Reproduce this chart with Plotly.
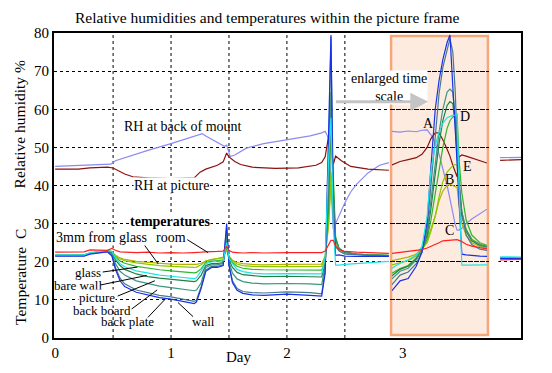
import plotly.graph_objects as go

FONT = "Liberation Serif, Times New Roman, serif"

# ---------------- main time axis (days) ----------------
days = [0, 0.25, 0.3, 0.45, 0.49, 0.52, 0.56, 0.6, 0.7, 0.8, 0.9, 1.0, 1.1, 1.2, 1.22, 1.26, 1.3, 1.35, 1.4, 1.45,
        1.48, 1.5, 1.53, 1.57, 1.62, 1.7, 1.8, 2.0, 2.2, 2.30, 2.33, 2.36, 2.38, 2.40, 2.42, 2.45, 2.5, 2.6, 2.7, 2.88]

t_room = [22.5, 22.6, 23.1, 23.0, 23.5, 23.0, 22.6, 22.5, 22.4, 22.5, 22.3, 22.4, 22.3, 22.4, 22.4, 22.5, 22.6, 22.6, 22.7, 22.8,
          24.0, 23.0, 22.5, 22.4, 22.3, 22.4, 22.3, 22.4, 22.3, 22.4, 22.8, 24.3, 25.6, 25.6, 24.0, 23.2, 22.7, 22.5, 22.4, 22.2]
t_3mm = [21.7, 21.8, 22.3, 22.8, 22.6, 21.7, 21.0, 20.6, 20.1, 19.8, 19.6, 19.4, 19.3, 19.2, 19.3, 19.6, 20.2, 20.6, 20.8, 21.2,
         23.0, 21.5, 20.4, 19.8, 19.5, 19.3, 19.2, 19.3, 19.3, 19.4, 21.5, 30.0, 40.0, 33.0, 24.7, 23.0, 22.3, 22.0, 21.8, 21.7]
t_glass = [21.7, 21.8, 22.3, 22.9, 22.7, 21.5, 20.7, 20.3, 19.7, 19.3, 19.0, 18.8, 18.6, 18.5, 18.6, 19.2, 20.2, 20.6, 20.8, 21.0,
           23.5, 21.5, 20.2, 19.4, 19.0, 18.8, 18.7, 18.7, 18.7, 18.8, 21.0, 30.0, 43.5, 37.0, 25.7, 23.2, 22.3, 21.9, 21.7, 21.6]
t_barewall = [21.7, 21.7, 22.3, 22.9, 22.6, 21.2, 20.2, 19.6, 18.8, 18.3, 17.9, 17.6, 17.3, 17.1, 17.2, 18.2, 19.8, 20.2, 20.3, 20.5,
              24.0, 21.2, 19.8, 18.8, 18.3, 18.0, 17.9, 17.9, 17.8, 17.8, 20.0, 34.0, 55.0, 43.0, 26.5, 23.5, 22.5, 22.0, 21.8, 21.7]
t_picture = [21.8, 21.8, 22.4, 23.0, 22.7, 21.0, 19.5, 18.7, 17.6, 17.0, 16.5, 16.2, 15.9, 15.6, 15.8, 17.5, 19.5, 20.0, 20.0, 20.2,
             25.0, 21.0, 19.5, 18.0, 17.4, 17.0, 16.8, 16.9, 16.8, 16.8, 21.0, 47.0, 57.8, 30.0, 19.1, 19.1, 19.3, 19.5, 19.8, 20.1]
t_mount = [21.7, 21.7, 22.2, 22.8, 22.3, 20.5, 19.0, 18.0, 16.8, 16.1, 15.7, 15.4, 15.1, 14.8, 15.0, 16.5, 19.0, 19.5, 19.5, 19.8,
           26.0, 20.5, 18.5, 17.2, 16.6, 16.3, 16.1, 16.2, 16.1, 16.0, 19.5, 38.0, 62.0, 40.0, 26.0, 23.5, 22.5, 22.0, 21.8, 21.6]
t_backboard = [21.7, 21.7, 22.2, 22.8, 22.0, 19.5, 17.5, 16.5, 15.0, 14.2, 13.6, 13.2, 12.8, 12.4, 12.6, 14.5, 18.5, 19.2, 19.2, 19.6,
               27.0, 20.0, 17.0, 15.5, 14.8, 14.4, 14.2, 14.3, 14.2, 14.0, 19.0, 41.0, 64.5, 37.0, 25.5, 23.5, 22.5, 22.0, 21.8, 21.6]
t_backplate = [21.6, 21.6, 22.1, 22.7, 21.7, 18.5, 15.7, 14.2, 12.6, 11.8, 11.2, 10.8, 10.2, 9.6, 10.0, 13.5, 17.8, 18.8, 18.8, 19.2,
               29.0, 19.3, 15.0, 13.0, 12.2, 11.9, 11.8, 12.1, 11.9, 11.6, 18.0, 47.0, 79.0, 38.0, 24.0, 22.8, 22.0, 21.8, 21.7, 21.6]
t_wall = [21.5, 21.5, 22.0, 22.6, 21.5, 18.0, 15.0, 13.5, 12.0, 11.2, 10.6, 10.2, 9.6, 9.0, 9.5, 13.0, 17.5, 18.5, 18.5, 19.0,
          30.0, 19.0, 14.5, 12.5, 11.7, 11.3, 11.2, 11.5, 11.2, 11.0, 17.0, 53.0, 79.5, 32.0, 21.7, 21.8, 21.5, 21.4, 21.4, 21.4]

rh_mount_days = [0, 0.2, 0.4, 0.48, 0.52, 0.6, 0.8, 1.0, 1.1, 1.2, 1.27, 1.3, 1.4, 1.46, 1.48, 1.51, 1.55, 1.65, 1.8, 2.0,
                 2.2, 2.30, 2.33, 2.36, 2.38, 2.40, 2.42, 2.45, 2.5, 2.55, 2.6, 2.7, 2.8, 2.88]
rh_mount = [45.0, 45.2, 45.4, 45.6, 46.5, 47.3, 49.2, 51.0, 51.9, 52.8, 53.6, 53.0, 51.3, 50.3, 50.6, 47.6, 48.0, 49.8, 51.0, 52.0,
            53.0, 53.8, 54.2, 52.3, 40.0, 28.5, 30.0, 32.0, 35.5, 38.3, 40.3, 43.3, 45.3, 46.0]
rh_pic_days = [0, 0.2, 0.3, 0.45, 0.5, 0.55, 0.6, 0.67, 0.8, 1.0, 1.2, 1.25, 1.3, 1.4, 1.45, 1.48, 1.5, 1.55, 1.6, 1.7,
               1.9, 2.1, 2.25, 2.30, 2.33, 2.36, 2.38, 2.40, 2.42, 2.47, 2.55, 2.7, 2.88]
rh_pic = [44.3, 44.3, 44.6, 44.8, 44.6, 43.7, 43.0, 42.3, 42.0, 41.8, 42.0, 43.5, 44.3, 45.3, 46.2, 48.5, 47.5, 46.3, 45.5, 44.8,
          44.5, 44.6, 45.3, 46.0, 47.5, 53.0, 50.0, 45.5, 47.7, 46.5, 45.0, 44.3, 44.0]

# continuation after the enlarged window
days_late = [3.84, 4.02]
late_rh_mount = [47.3, 47.4]
late_rh_pic = [46.6, 46.8]
late_room = [20.5, 20.6]
late_picture = [21.3, 21.2]
late_wall = [20.8, 20.9]
late_backboard = [21.1, 21.0]

# ---------------- enlarged time scale (minutes) ----------------
minutes = [0, 17, 34, 51, 63, 74, 82, 91, 99, 107, 116, 122, 128, 133, 137, 141, 147, 156, 168, 185, 200]
e_wall = [12.4, 15.0, 15.6, 18.8, 22.5, 30.5, 45.0, 60.0, 67.5, 73.0, 77.5, 79.5, 66.0, 56.0, 46.0, 36.0, 22.0, 21.8, 21.6, 21.5, 21.4]
e_backplate = [14.0, 16.5, 17.3, 19.5, 22.5, 29.0, 40.0, 54.0, 64.0, 71.0, 76.0, 78.5, 75.0, 65.0, 52.0, 42.0, 33.0, 27.0, 24.5, 23.3, 23.0]
e_backboard = [15.5, 17.5, 18.3, 20.5, 23.0, 28.0, 36.0, 46.0, 54.0, 60.0, 64.5, 65.3, 64.5, 58.0, 48.0, 40.0, 33.0, 28.5, 25.8, 24.5, 24.0]
e_mount = [16.3, 18.0, 18.8, 20.8, 23.0, 27.0, 34.0, 43.0, 51.0, 57.0, 61.0, 62.0, 61.5, 56.0, 47.0, 39.0, 32.0, 28.0, 25.5, 24.3, 23.9]
e_picture = [18.3, 19.6, 20.5, 21.8, 24.0, 32.0, 44.0, 50.5, 54.0, 56.3, 57.8, 58.2, 58.4, 58.5, 58.6, 40.0, 19.1, 19.1, 19.1, 19.1, 19.2]
e_barewall = [17.0, 18.2, 19.0, 21.0, 23.0, 26.0, 31.0, 38.0, 44.0, 50.0, 55.0, 57.0, 58.0, 58.4, 58.6, 47.0, 38.0, 31.0, 27.0, 25.0, 24.3]
e_glass = [19.2, 19.8, 20.3, 21.5, 23.2, 25.0, 28.0, 32.0, 37.0, 41.0, 43.5, 44.5, 45.2, 45.5, 45.3, 40.0, 33.0, 28.5, 26.0, 24.6, 24.0]
e_3mm = [20.3, 20.8, 21.2, 22.0, 23.5, 25.5, 28.5, 32.0, 36.0, 38.5, 40.0, 40.3, 40.0, 39.6, 39.5, 35.0, 30.0, 27.0, 25.0, 24.0, 23.6]
e_room = [22.2, 22.5, 22.7, 23.0, 23.2, 23.6, 24.0, 24.5, 25.0, 25.5, 25.6, 25.7, 25.8, 25.8, 25.8, 25.6, 25.3, 24.6, 24.1, 23.7, 23.4]
e_rh_mount = [54.2, 54.0, 54.3, 54.1, 54.5, 54.6, 53.3, 51.2, 48.3, 44.5, 40.0, 36.5, 32.5, 29.8, 28.3, 28.3, 28.8, 30.0, 31.2, 32.5, 33.8]
e_rh_pic = [45.4, 46.3, 46.8, 47.3, 48.2, 50.0, 52.3, 53.8, 53.8, 52.0, 49.5, 47.7, 45.3, 43.8, 42.3, 47.5, 48.0, 47.7, 47.2, 46.5, 45.9]

y_ticks = [0, 10, 20, 30, 40, 50, 60, 70, 80]
x_ticks = [0, 1, 2, 3]
x_grid = [0.5, 1, 1.5, 2, 2.5]

C = dict(rh_mount="#8a8af2", rh_pic="#8b1010", room="#ff2020", mm3="#b5b000", glass="#8cc800",
         barewall="#2fb52f", picture="#20e4e4", mount="#1e7f48", backboard="#3a9680",
         backplate="#467a8e", wall="#1a30e6")

series = [
    ("RH at back of mount", rh_mount_days, rh_mount, late_rh_mount, e_rh_mount, C["rh_mount"]),
    ("RH at picture", rh_pic_days, rh_pic, late_rh_pic, e_rh_pic, C["rh_pic"]),
    ("3mm from glass", days, t_3mm, None, e_3mm, C["mm3"]),
    ("glass", days, t_glass, None, e_glass, C["glass"]),
    ("bare wall", days, t_barewall, None, e_barewall, C["barewall"]),
    ("mount", days, t_mount, None, e_mount, C["mount"]),
    ("back board", days, t_backboard, late_backboard, e_backboard, C["backboard"]),
    ("back plate", days, t_backplate, None, e_backplate, C["backplate"]),
    ("wall", days, t_wall, late_wall, e_wall, C["wall"]),
    ("picture", days, t_picture, late_picture, e_picture, C["picture"]),
    ("room", days, t_room, late_room, e_room, C["room"]),
]

fig = go.Figure()
for name, xs, ys, late, ens, col in series:
    xx = list(xs)
    yy = list(ys)
    if late is not None:
        xx += [None] + days_late
        yy += [None] + late
    fig.add_trace(go.Scatter(x=xx, y=yy, mode="lines", name=name,
                             line=dict(color=col, width=1.2), showlegend=False))
    fig.add_trace(go.Scatter(x=minutes, y=ens, xaxis="x2", yaxis="y", mode="lines", name=name + " (enlarged)",
                             line=dict(color=col, width=1.2), showlegend=False))

# vertical dotted grid lines (main time axis)
for g in x_grid:
    fig.add_shape(type="line", xref="x", yref="paper", x0=g, x1=g, y0=0, y1=1,
                  line=dict(color="black", width=1, dash="dot"), layer="below")

# enlarged-time panel background
fig.add_shape(type="rect", xref="x2 domain", yref="paper", x0=-0.01, x1=1.01, y0=0.01, y1=0.99,
              fillcolor="#fdebe0", line=dict(color="#f5a77a", width=2.5), layer="below")
fig.add_shape(type="rect", xref="x2 domain", yref="paper", x0=1.03, x1=1.12, y0=0.02, y1=0.98,
              fillcolor="white", line=dict(width=0), layer="above")

tf = dict(family=FONT, size=14, color="black")
sf = dict(family=FONT, size=13, color="black")
def label(text, x, y, font=tf, **kw):
    fig.add_annotation(text=text, x=x, y=y, xref="x", yref="y", showarrow=False, font=font,
                       xanchor="center", yanchor="middle", borderpad=0, **kw)

label("RH at back of mount", 1.1, 55.6)
label("RH at picture", 1.0, 40.0, bgcolor="white")
label("<b>temperatures</b>", 0.99, 30.6, bgcolor="white")
label("3mm from glass", 0.4, 26.3, bgcolor="white")
label("room", 1.0, 26.3, bgcolor="white")
label("glass", 0.28, 17.3, font=sf)
label("bare wall", 0.2, 13.9, font=sf)
label("picture", 0.36, 10.7, font=sf, bgcolor="white")
label("back board", 0.4, 7.2, font=sf)
label("back plate", 0.62, 4.4, font=sf)
label("wall", 1.28, 4.4, font=sf)
label("enlarged time<br>scale", 2.88, 65.8, bgcolor="white")

leaders = [((0.76, 24.8), (0.89, 19.4)), ((1.14, 25.8), (1.32, 22.4)), ((0.41, 17.3), (0.71, 18.6)),
           ((0.39, 13.9), (0.79, 16.4)), ((0.54, 11.0), (0.86, 15.0)), ((0.66, 7.6), (0.88, 12.6)),
           ((0.8, 5.4), (0.95, 10.2)), ((1.19, 5.6), (1.06, 9.3))]
for (a, b) in leaders:
    fig.add_shape(type="line", xref="x", yref="y", x0=a[0], y0=a[1], x1=b[0], y1=b[1],
                  line=dict(color="black", width=1))

# arrow toward the enlarged panel
fig.add_annotation(x=3.22, y=62, ax=2.41, ay=62, xref="x", yref="y", axref="x", ayref="y",
                   showarrow=True, arrowhead=2, arrowsize=1.2, arrowwidth=3, arrowcolor="#c4c4c4", text="")

for txt, m, v in [("A", 76, 56.2), ("B", 122, 41.5), ("C", 122, 28.2), ("D", 154, 58.2), ("E", 158, 45.0)]:
    fig.add_annotation(text=txt, x=m, y=v, xref="x2", yref="y", showarrow=False, font=tf,
                       xanchor="center", yanchor="middle")

# axis titles and chart title
fig.add_annotation(text="Relative humidities and temperatures within the picture frame", xref="paper", yref="paper",
                   x=0.456, y=1.052, xanchor="center", yanchor="middle", showarrow=False,
                   font=dict(family=FONT, size=15.5, color="black"))
fig.add_annotation(text="Relative humidity %", xref="paper", yref="paper", x=-0.073, y=0.70, textangle=-90,
                   xanchor="center", yanchor="middle", showarrow=False, font=dict(family=FONT, size=15.5, color="black"))
fig.add_annotation(text="Temperature  C", xref="paper", yref="paper", x=-0.073, y=0.20, textangle=-90,
                   xanchor="center", yanchor="middle", showarrow=False, font=dict(family=FONT, size=15.5, color="black"))
fig.add_annotation(text="Day", xref="x", yref="paper", x=1.58, y=-0.061, xanchor="center", yanchor="middle",
                   showarrow=False, font=dict(family=FONT, size=15, color="black"))

# the page body adds an 8px margin, so the figure is 8px smaller and its margins shifted by 8px
fig.update_layout(
    width=544, height=365, margin=dict(l=46, r=31, t=25, b=30),
    paper_bgcolor="white", plot_bgcolor="rgba(0,0,0,0)", showlegend=False,
    font=dict(family=FONT, size=15, color="black"),
    xaxis=dict(range=[-0.01, 4.02], tickvals=x_ticks, showgrid=False, zeroline=False,
               showline=True, mirror=True, linecolor="black", linewidth=2, ticks="",
               tickfont=dict(family=FONT, size=15)),
    xaxis2=dict(domain=[0.7238, 0.9272], range=[0, 200], anchor="y", visible=False, showgrid=False),
    yaxis=dict(range=[0, 80], tickvals=y_ticks, showgrid=True, griddash="dot", gridcolor="black", gridwidth=1,
               zeroline=False, showline=True, mirror=True, linecolor="black", linewidth=2, ticks="",
               tickfont=dict(family=FONT, size=15)),
)

fig.write_html("out.html")
